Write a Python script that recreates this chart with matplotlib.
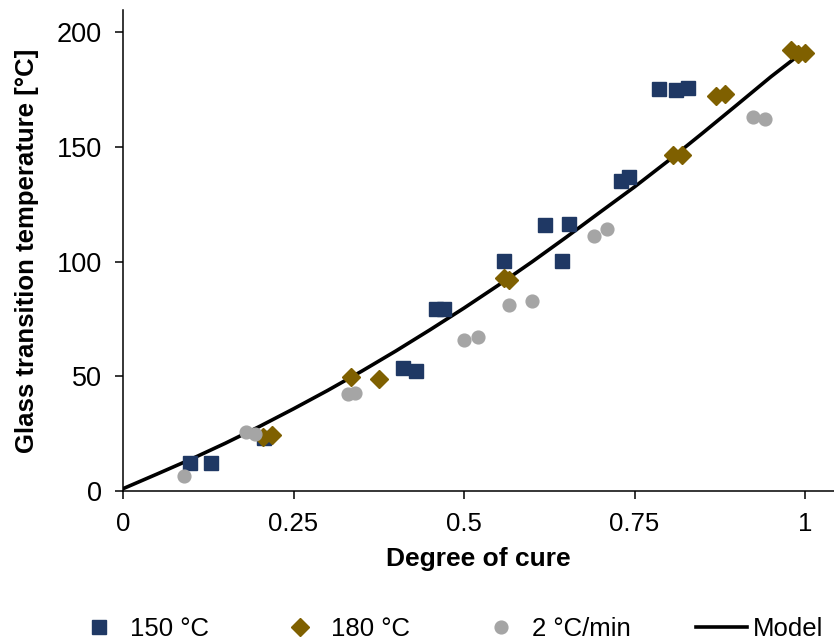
import matplotlib
matplotlib.use("Agg")
import matplotlib.pyplot as plt

plt.rcParams['font.family'] = ['Liberation Sans', 'DejaVu Sans']

# 150 °C series
sq_x = [0.098, 0.129, 0.207, 0.410, 0.430, 0.459, 0.471, 0.559, 0.619, 0.644, 0.654, 0.730, 0.742, 0.786, 0.811, 0.829]
sq_y = [12.2, 12.2, 23.0, 53.7, 52.2, 79.3, 79.3, 100.4, 116.0, 100.4, 116.3, 135.2, 136.9, 175.3, 174.7, 175.7]

# 180 °C series
dia_x = [0.206, 0.218, 0.334, 0.375, 0.558, 0.566, 0.807, 0.819, 0.870, 0.883, 0.980, 0.990, 1.000]
dia_y = [23.7, 24.4, 49.5, 48.7, 92.8, 92.0, 146.6, 146.4, 171.9, 173.1, 192.3, 190.3, 190.9]

# 2 °C/min series
cir_x = [0.090, 0.180, 0.194, 0.330, 0.340, 0.500, 0.520, 0.566, 0.600, 0.691, 0.710, 0.924, 0.941]
cir_y = [6.7, 25.8, 24.7, 42.1, 42.8, 65.8, 67.0, 81.0, 82.8, 111.2, 114.2, 162.8, 162.2]

# Model curve
model_x = [0.0, 0.05, 0.10, 0.15, 0.20, 0.25, 0.30, 0.35, 0.40, 0.45, 0.50,
           0.55, 0.60, 0.65, 0.70, 0.75, 0.80, 0.85, 0.90, 0.95, 1.00]
model_y = [1.0, 7.4, 13.9, 20.8, 28.1, 35.8, 43.8, 52.2, 61.0, 70.2, 79.7,
           89.6, 99.9, 110.6, 121.6, 132.5, 144.0, 156.0, 168.2, 180.5, 192.0]

x_ticks = [0, 0.25, 0.5, 0.75, 1]
x_ticklabels = ['0', '0.25', '0.5', '0.75', '1']
y_ticks = [0, 50, 100, 150, 200]

FS = 18.5

fig = plt.figure(figsize=(8.34, 6.44), dpi=100)
ax = fig.add_axes([123 / 834, (644 - 491) / 644, 711 / 834, 481 / 644])

ax.plot(model_x, model_y, color='black', lw=2.6, zorder=1, label='Model')
ax.plot(sq_x, sq_y, ls='none', marker='s', ms=10.3, color='#1F3864', zorder=2, label='150 °C')
ax.plot(dia_x, dia_y, ls='none', marker='D', ms=8.8, color='#7F6000', zorder=3, label='180 °C')
ax.plot(cir_x, cir_y, ls='none', marker='o', ms=9.2, color='#A5A5A5', zorder=4, label='2 °C/min')

ax.set_xlim(0, 711 / 682)
ax.set_ylim(0, 481 / 2.295)
ax.set_xticks(x_ticks)
ax.set_xticklabels(x_ticklabels)
ax.set_yticks(y_ticks)

for s in ['top', 'right']:
    ax.spines[s].set_visible(False)
for s in ['left', 'bottom']:
    ax.spines[s].set_linewidth(1.1)
    ax.spines[s].set_color('black')

ax.tick_params(axis='both', direction='out', length=6, width=1.1, labelsize=FS, pad=9)
ax.tick_params(axis='y', labelsize=19.5)

ax.set_xlabel('Degree of cure', fontsize=19, fontweight='bold', labelpad=8)
ax.set_ylabel('Glass transition temperature [°C]', fontsize=FS, fontweight='bold', labelpad=13)

handles, labels = ax.get_legend_handles_labels()
order = [1, 2, 3, 0]
fig.legend([handles[i] for i in order], [labels[i] for i in order],
           loc='center', bbox_to_anchor=((65 + 832) / 2 / 834, 1 - 629 / 644),
           ncol=4, frameon=False, fontsize=FS, handlelength=1.95, handletextpad=0.25,
           columnspacing=2.55, borderpad=0, borderaxespad=0)

fig.savefig('out.png', dpi=100)
